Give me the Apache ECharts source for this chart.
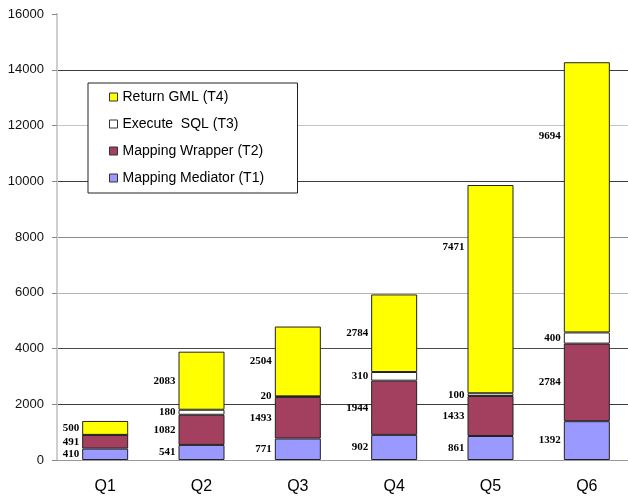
<!DOCTYPE html>
<html>
<head>
<meta charset="utf-8">
<title>Query time breakdown</title>
<script src="https://cdn.jsdelivr.net/npm/echarts@6/dist/echarts.min.js"></script>
<style>
  html, body { margin: 0; padding: 0; background: #fff; }
  #chart { width: 628px; height: 496px; }
</style>
</head>
<body>
<div id="chart"></div>
<script>
// categories on the x axis
const queries = ['Q1', 'Q2', 'Q3', 'Q4', 'Q5', 'Q6'];
// stacked parts, bottom to top
const mediatorT1 = [410, 541, 771, 902, 861, 1392];
const wrapperT2 = [491, 1082, 1493, 1944, 1433, 2784];
const sqlT3 = [0, 180, 20, 310, 100, 400];
const gmlT4 = [500, 2083, 2504, 2784, 7471, 9694];
const seriesNames = ['Mapping Mediator (T1)', 'Mapping Wrapper (T2)', 'Execute  SQL (T3)', 'Return GML (T4)'];
// y axis range
const yMin = 0;
const yMax = 16000;
const yStep = 2000;

const chart = echarts.init(document.getElementById('chart'));

const colors = ['#9999ff', '#a4405f', '#ffffff', '#ffff00'];
// the two tall yellow labels sit higher up in the original
const t4LabelShift = [0, 0, 0, 0, -42, -61];

function makeSeries (name, values, idx) {
  return {
    name: name,
    type: 'bar',
    stack: 'total',
    barWidth: 46,
    itemStyle: { color: colors[idx], borderColor: '#222', borderWidth: 1 },
    label: {
      show: true,
      position: 'left',
      distance: 3,
      color: '#000',
      fontFamily: 'Liberation Serif, Times New Roman, serif',
      fontWeight: 'bold',
      fontSize: 11,
      formatter: p => (p.value ? String(p.value) : '')
    },
    data: values.map((v, i) => {
      if (idx === 3 && t4LabelShift[i]) {
        return { value: v, label: { offset: [0, t4LabelShift[i]] } };
      }
      return v;
    })
  };
}

const option = {
  animation: false,
  backgroundColor: '#fff',
  grid: {
    left: 57,
    right: -7, // the last category runs off the picture edge
    top: 14,
    bottom: 36,
    outerBoundsMode: 'none'
  },
  legend: {
    orient: 'vertical',
    left: 88,
    top: 83,
    data: [seriesNames[3], seriesNames[2], seriesNames[1], seriesNames[0]],
    icon: 'rect',
    itemWidth: 8,
    itemHeight: 8,
    itemGap: 11,
    padding: [6, 25, 7, 21],
    backgroundColor: '#fff',
    borderColor: '#222',
    borderWidth: 1,
    borderRadius: 0,
    itemStyle: { borderColor: '#333', borderWidth: 1 },
    textStyle: {
      fontFamily: 'Liberation Sans, Arial, sans-serif',
      fontSize: 14,
      color: '#000',
      width: 150,
      lineHeight: 16
    }
  },
  xAxis: {
    type: 'category',
    data: queries,
    axisLine: { lineStyle: { color: '#999', width: 1 } },
    axisTick: { length: 5, lineStyle: { color: '#555' } },
    axisLabel: {
      margin: 19,
      color: '#000',
      fontFamily: 'Liberation Sans, Arial, sans-serif',
      fontSize: 16
    }
  },
  yAxis: {
    type: 'value',
    min: yMin,
    max: yMax,
    interval: yStep,
    axisLine: { show: true, lineStyle: { color: '#cfcfcf', width: 2 } },
    axisTick: { show: true, length: 5, lineStyle: { color: '#888' } },
    axisLabel: {
      margin: 13,
      color: '#111',
      fontFamily: 'Liberation Sans, Arial, sans-serif',
      fontSize: 13,
      formatter: v => String(v)
    },
    splitLine: {
      lineStyle: {
        color: ['#999999', '#3c3c3c', '#4a4a4a', '#b4b4b4', '#8c8c8c', '#3c3c3c', '#c4c4c4', '#3c3c3c', 'rgba(0,0,0,0)'],
        width: 1
      }
    }
  },
  series: [
    makeSeries(seriesNames[0], mediatorT1, 0),
    makeSeries(seriesNames[1], wrapperT2, 1),
    makeSeries(seriesNames[2], sqlT3, 2),
    makeSeries(seriesNames[3], gmlT4, 3)
  ]
};

chart.setOption(option);
</script>
</body>
</html>
